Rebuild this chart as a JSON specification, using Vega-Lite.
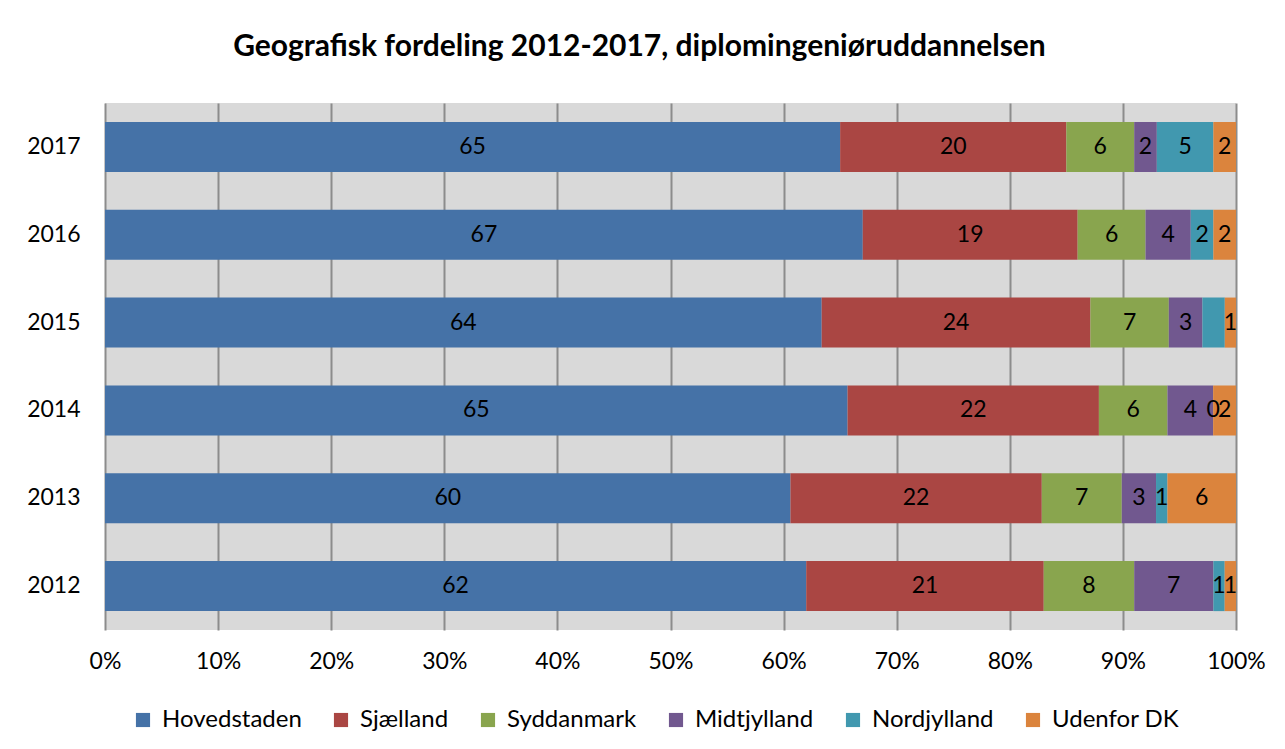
{
  "$schema": "https://vega.github.io/schema/vega-lite/v6.json",
  "width": 1131,
  "height": 527,
  "autosize": "none",
  "padding": {"left": 105, "top": 103, "right": 49, "bottom": 119},
  "background": "white",
  "title": {
    "text": "Geografisk fordeling 2012-2017, diplomingeniøruddannelsen",
    "font": "Lato",
    "fontSize": 30,
    "fontWeight": "bold",
    "color": "black",
    "anchor": "middle",
    "dx": -31,
    "offset": 41
  },
  "config": {
    "font": "Lato",
    "view": {"fill": "#D9D9D9", "stroke": null}
  },
  "data": {
    "values": [
      {"year": "2017", "region": "Hovedstaden", "i": 1, "value": 65, "label": "65"},
      {"year": "2017", "region": "Sjælland", "i": 2, "value": 20, "label": "20"},
      {"year": "2017", "region": "Syddanmark", "i": 3, "value": 6, "label": "6"},
      {"year": "2017", "region": "Midtjylland", "i": 4, "value": 2, "label": "2"},
      {"year": "2017", "region": "Nordjylland", "i": 5, "value": 5, "label": "5"},
      {"year": "2017", "region": "Udenfor DK", "i": 6, "value": 2, "label": "2"},
      {"year": "2016", "region": "Hovedstaden", "i": 1, "value": 67, "label": "67"},
      {"year": "2016", "region": "Sjælland", "i": 2, "value": 19, "label": "19"},
      {"year": "2016", "region": "Syddanmark", "i": 3, "value": 6, "label": "6"},
      {"year": "2016", "region": "Midtjylland", "i": 4, "value": 4, "label": "4"},
      {"year": "2016", "region": "Nordjylland", "i": 5, "value": 2, "label": "2"},
      {"year": "2016", "region": "Udenfor DK", "i": 6, "value": 2, "label": "2"},
      {"year": "2015", "region": "Hovedstaden", "i": 1, "value": 64, "label": "64"},
      {"year": "2015", "region": "Sjælland", "i": 2, "value": 24, "label": "24"},
      {"year": "2015", "region": "Syddanmark", "i": 3, "value": 7, "label": "7"},
      {"year": "2015", "region": "Midtjylland", "i": 4, "value": 3, "label": "3"},
      {"year": "2015", "region": "Nordjylland", "i": 5, "value": 2, "label": ""},
      {"year": "2015", "region": "Udenfor DK", "i": 6, "value": 1, "label": "1"},
      {"year": "2014", "region": "Hovedstaden", "i": 1, "value": 65, "label": "65"},
      {"year": "2014", "region": "Sjælland", "i": 2, "value": 22, "label": "22"},
      {"year": "2014", "region": "Syddanmark", "i": 3, "value": 6, "label": "6"},
      {"year": "2014", "region": "Midtjylland", "i": 4, "value": 4, "label": "4"},
      {"year": "2014", "region": "Nordjylland", "i": 5, "value": 0, "label": "0"},
      {"year": "2014", "region": "Udenfor DK", "i": 6, "value": 2, "label": "2"},
      {"year": "2013", "region": "Hovedstaden", "i": 1, "value": 60, "label": "60"},
      {"year": "2013", "region": "Sjælland", "i": 2, "value": 22, "label": "22"},
      {"year": "2013", "region": "Syddanmark", "i": 3, "value": 7, "label": "7"},
      {"year": "2013", "region": "Midtjylland", "i": 4, "value": 3, "label": "3"},
      {"year": "2013", "region": "Nordjylland", "i": 5, "value": 1, "label": "1"},
      {"year": "2013", "region": "Udenfor DK", "i": 6, "value": 6, "label": "6"},
      {"year": "2012", "region": "Hovedstaden", "i": 1, "value": 62, "label": "62"},
      {"year": "2012", "region": "Sjælland", "i": 2, "value": 21, "label": "21"},
      {"year": "2012", "region": "Syddanmark", "i": 3, "value": 8, "label": "8"},
      {"year": "2012", "region": "Midtjylland", "i": 4, "value": 7, "label": "7"},
      {"year": "2012", "region": "Nordjylland", "i": 5, "value": 1, "label": "1"},
      {"year": "2012", "region": "Udenfor DK", "i": 6, "value": 1, "label": "1"}
    ]
  },
  "encoding": {
    "y": {
      "field": "year",
      "type": "ordinal",
      "sort": "descending",
      "scale": {"paddingInner": 0.43, "paddingOuter": 0.215},
      "axis": {
        "title": null,
        "domain": false,
        "ticks": false,
        "labelFontSize": 23,
        "labelColor": "black",
        "labelPadding": 25
      }
    },
    "order": {"field": "i", "type": "quantitative"}
  },
  "layer": [
    {
      "mark": {"type": "bar"},
      "encoding": {
        "x": {
          "field": "value",
          "type": "quantitative",
          "aggregate": "sum",
          "stack": "normalize",
          "scale": {"domain": [0, 1], "nice": false},
          "axis": {
            "title": null,
            "format": ".0%",
            "values": [0, 0.1, 0.2, 0.3, 0.4, 0.5, 0.6, 0.7, 0.8, 0.9, 1],
            "domain": false,
            "ticks": false,
            "grid": true,
            "gridColor": "#8C8C8C",
            "gridWidth": 2,
            "gridOpacity": 1,
            "labelFontSize": 23,
            "labelColor": "black",
            "labelPadding": 20,
            "labelFlush": false
          }
        },
        "color": {
          "field": "region",
          "type": "nominal",
          "scale": {
            "domain": ["Hovedstaden", "Sjælland", "Syddanmark", "Midtjylland", "Nordjylland", "Udenfor DK"],
            "range": ["#4572A7", "#AA4643", "#89A54E", "#71588F", "#4198AF", "#DB843D"]
          },
          "legend": {
            "title": null,
            "orient": "none",
            "direction": "horizontal",
            "columns": 6,
            "legendX": 26,
            "legendY": 605,
            "symbolType": "square",
            "symbolSize": 200,
            "symbolStrokeWidth": 0,
            "symbolOpacity": 1,
            "labelFontSize": 24,
            "labelColor": "black",
            "columnPadding": 27,
            "labelOffset": 7
          }
        }
      }
    },
    {
      "mark": {"type": "text", "fontSize": 23, "color": "black"},
      "encoding": {
        "x": {
          "field": "value",
          "type": "quantitative",
          "aggregate": "sum",
          "stack": "normalize",
          "bandPosition": 0.5
        },
        "detail": {"field": "region", "type": "nominal"},
        "text": {"field": "label", "type": "nominal"}
      }
    }
  ]
}
